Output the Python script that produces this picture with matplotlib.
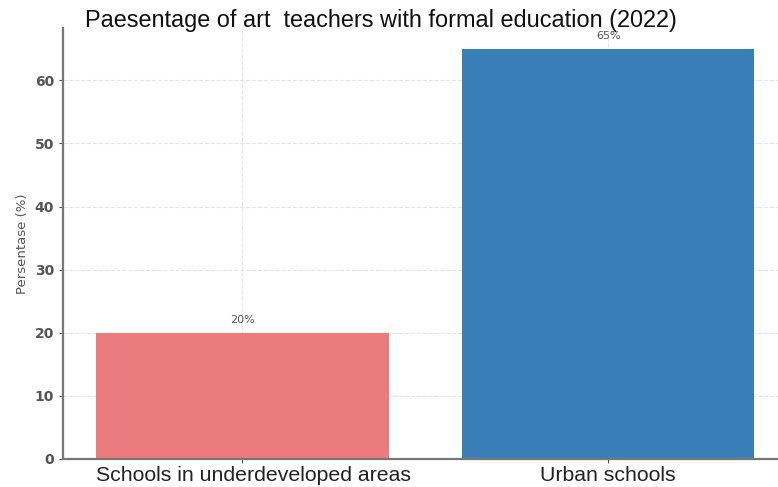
import matplotlib.pyplot as plt
import matplotlib.transforms as mtransforms

# data
categories = ["Schools in underdeveloped areas", "Urban schools"]
values = [20, 65]
labels = ["20%", "65%"]
colors = ["#EC7B7E", "#3A7EB8"]

fig = plt.figure(figsize=(7.78, 4.87), dpi=100)
ax = fig.add_axes([63/778, 1 - 459/487, (791 - 63)/778, (459 - 28)/487])

ax.bar(range(len(categories)), values, width=0.8, color=colors, zorder=2)
for i, v in enumerate(values):
    ax.text(i, v + 1.2, labels[i], ha="center", va="bottom", fontsize=8, color="#555555")

ax.set_xlim(-0.49, 1.5)
ax.set_ylim(0, 68.3)
ax.set_xticks(range(len(categories)))
ax.set_xticklabels(categories, fontsize=15.3, family="Liberation Sans", color="#222222")
ax.set_yticks([0, 10, 20, 30, 40, 50, 60])
ax.tick_params(axis="y", labelsize=10, colors="#555555", length=3)
ax.tick_params(axis="x", length=3, pad=2, colors="#555555", labelcolor="#222222")
for lab in ax.get_yticklabels():
    lab.set_fontweight("bold")
# first label sits a bit right of its bar in the original
lab0 = ax.get_xticklabels()[0]
lab0.set_transform(lab0.get_transform() + mtransforms.ScaledTranslation(0.11, 0, fig.dpi_scale_trans))
ax.set_ylabel("Persentase (%)", fontsize=9.5, color="#555555")

ax.grid(True, linestyle="--", color="#e4e4e4", linewidth=0.8, zorder=0)
ax.spines["top"].set_visible(False)
ax.spines["right"].set_visible(False)
ax.spines["left"].set_color("#777777")
ax.spines["bottom"].set_color("#777777")
ax.spines["left"].set_linewidth(1.6)
ax.spines["bottom"].set_linewidth(1.6)

fig.text(381/778, 1 - 20/487, "Paesentage of art  teachers with formal education (2022)",
         ha="center", va="center", fontsize=16.9, family="Liberation Sans", color="#111111")

fig.savefig("out.png", dpi=100)
